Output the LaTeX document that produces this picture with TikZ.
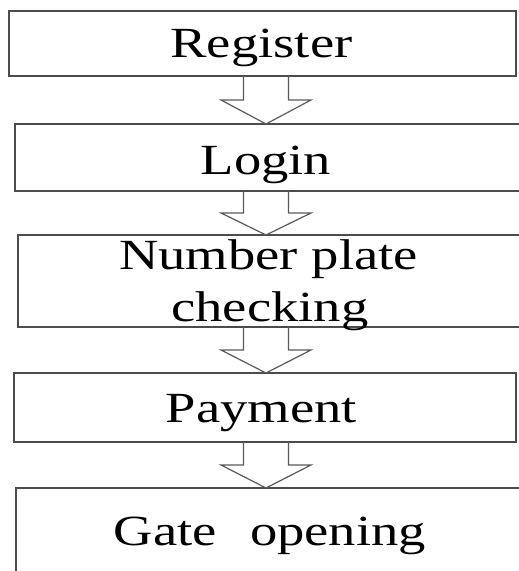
\documentclass[tikz,border=0pt]{standalone}
\usepackage{fontspec}
\setmainfont{Liberation Serif}
\usetikzlibrary{calc}

\newcommand\stretchtext[1]{\scalebox{1.27}[1]{\fontsize{43}{50}\selectfont #1}}

% open block arrow from the bottom edge of one box to the top edge of the next
\newcommand\flowarrow[2]{%
  \draw[arrowline] let \p1=(#1.south), \p2=(#2.north), \n1={(\y1-\y2)/2} in
    ({\axisx-22.5pt},\y1) -- ({\axisx-22.5pt},{\y1-\n1}) -- ({\axisx-45pt},{\y1-\n1})
    -- (\axisx,\y2) -- ({\axisx+45pt},{\y1-\n1}) -- ({\axisx+22.5pt},{\y1-\n1})
    -- ({\axisx+22.5pt},\y1);}
\def\axisx{266pt}

\begin{document}
\begin{tikzpicture}[x=1pt,y=1pt,
  box/.style={draw=black!70, line width=1.3pt, rectangle, inner sep=0pt, outer sep=0pt},
  label/.style={anchor=base, inner sep=0pt, text=black},
  arrowline/.style={draw=black!65, line width=1.2pt, line join=miter}]
  \useasboundingbox (0,0) rectangle (519,571);

  % process boxes
  \node[box, minimum width=507, minimum height=65] (reg) at (262.5,527.5) {};
  \node[box, minimum width=510, minimum height=67] (login) at (270,413.5) {};
  \node[box, minimum width=507, minimum height=92] (plate) at (271.5,290) {};
  \node[box, minimum width=502, minimum height=69] (pay) at (265,163.5) {};
  \node[box, minimum width=509, minimum height=92] (gate) at (270.5,37) {};

  % box captions
  \node[label] (tReg) at (261.5,513) {\stretchtext{Register}};
  \node[label] (tLogin) at (266,396) {\stretchtext{Login}};
  \node[label] (tPlate1) at (268.5,301) {\stretchtext{Number plate}};
  \node[label] (tPlate2) at (270,249) {\stretchtext{checking}};
  \node[label] (tPay) at (261.5,148) {\stretchtext{Payment}};
  \node[label] (tGate) at (270,26) {\stretchtext{Gate\hspace{26pt}opening}};

  % flow arrows
  \flowarrow{reg}{login}
  \flowarrow{login}{plate}
  \flowarrow{plate}{pay}
  \flowarrow{pay}{gate}
\end{tikzpicture}
\end{document}
